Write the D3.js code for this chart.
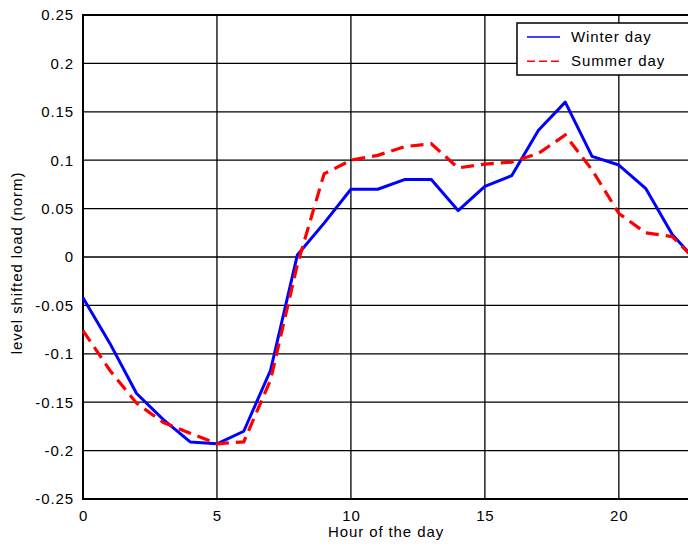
<!DOCTYPE html>
<html>
<head>
<meta charset="utf-8">
<script src="https://cdn.jsdelivr.net/npm/d3@7"></script>
<style>
  html, body { margin: 0; padding: 0; background: #fff; }
  svg { display: block; font-family: "Liberation Sans", Arial, sans-serif; }
</style>
</head>
<body>
<svg id="chart" width="688" height="550"></svg>
<script>
const hours = [0,1,2,3,4,5,6,7,8,9,10,11,12,13,14,15,16,17,18,19,20,21,22,23];
const winterDay = [-0.042,-0.089,-0.141,-0.168,-0.191,-0.193,-0.180,-0.117,0.002,0.035,0.070,0.070,0.080,0.080,0.048,0.073,0.084,0.131,0.160,0.104,0.095,0.071,0.023,-0.007];
const summerDay = [-0.076,-0.117,-0.151,-0.171,-0.182,-0.193,-0.191,-0.127,-0.008,0.086,0.100,0.105,0.114,0.117,0.092,0.096,0.098,0.107,0.126,0.090,0.045,0.025,0.021,-0.007];
const xTicks = [0,5,10,15,20];
const yTicks = [-0.25,-0.2,-0.15,-0.1,-0.05,0,0.05,0.1,0.15,0.2,0.25];
const yTickLabels = ["-0.25","-0.2","-0.15","-0.1","-0.05","0","0.05","0.1","0.15","0.2","0.25"];
const seriesNames = ["Winter day","Summer day"];
const xLabel = "Hour of the day";
const yLabel = "level shifted load (norm)";

const svg = d3.select("#chart");
const mLeft = 83, mTop = 15, mBottom = 499, mRight = 726;
const x = d3.scaleLinear().domain([0, 24]).range([mLeft, mRight]);
const y = d3.scaleLinear().domain([-0.25, 0.25]).range([mBottom, mTop]);
const fs = "15px", ls = "0.9px";

// grid
const grid = svg.append("g");
grid.selectAll("line.v").data(xTicks.filter(d => d > 0)).enter().append("line")
  .attr("x1", d => x(d)).attr("x2", d => x(d)).attr("y1", mTop).attr("y2", mBottom)
  .attr("stroke", "#000").attr("stroke-width", 1.3);
grid.selectAll("line.h").data(yTicks.filter(d => d > -0.25 && d < 0.25)).enter().append("line")
  .attr("x1", mLeft).attr("x2", mRight).attr("y1", d => y(d)).attr("y2", d => y(d))
  .attr("stroke", "#000").attr("stroke-width", 1.3);

// frame
svg.append("line").attr("x1", mLeft).attr("x2", mRight).attr("y1", mTop).attr("y2", mTop).attr("stroke", "#000").attr("stroke-width", 2);
svg.append("line").attr("x1", mLeft).attr("x2", mRight).attr("y1", mBottom).attr("y2", mBottom).attr("stroke", "#000").attr("stroke-width", 2);
svg.append("line").attr("x1", mLeft).attr("x2", mLeft).attr("y1", mTop - 1).attr("y2", mBottom + 1).attr("stroke", "#000").attr("stroke-width", 2);

// axes labels via d3 axes
const yAxis = d3.axisLeft(y).tickValues(yTicks).tickSize(0).tickPadding(9)
  .tickFormat((d, i) => yTickLabels[i]);
const gy = svg.append("g").attr("transform", `translate(${mLeft},0)`).call(yAxis);
gy.select(".domain").remove();
gy.selectAll("text").attr("font-size", fs).attr("letter-spacing", ls)
  .attr("font-family", "Liberation Sans, Arial, sans-serif").attr("fill", "#000");

const xAxis = d3.axisBottom(x).tickValues(xTicks).tickSize(0).tickPadding(11)
  .tickFormat(d3.format("d"));
const gx = svg.append("g").attr("transform", `translate(0,${mBottom})`).call(xAxis);
gx.select(".domain").remove();
gx.selectAll("text").attr("font-size", fs).attr("letter-spacing", ls)
  .attr("font-family", "Liberation Sans, Arial, sans-serif").attr("fill", "#000");

// lines
const line = d3.line().x((d, i) => x(hours[i])).y(d => y(d));
svg.append("path").datum(winterDay).attr("d", line)
  .attr("fill", "none").attr("stroke", "#0000ff").attr("stroke-width", 3).attr("stroke-linejoin", "round");
svg.append("path").datum(summerDay).attr("d", line)
  .attr("fill", "none").attr("stroke", "#ff0000").attr("stroke-width", 3.2).attr("stroke-dasharray", "13,7");

// axis titles
svg.append("text").attr("x", 386).attr("y", 537).attr("text-anchor", "middle")
  .attr("font-size", fs).attr("letter-spacing", ls).text(xLabel);
svg.append("text").attr("transform", "translate(22,263) rotate(-90)").attr("text-anchor", "middle")
  .attr("font-size", fs).attr("letter-spacing", ls).text(yLabel);

// legend
const lg = svg.append("g");
lg.append("rect").attr("x", 517).attr("y", 23).attr("width", 200).attr("height", 52)
  .attr("fill", "#fff").attr("stroke", "#000").attr("stroke-width", 1.5);
const colors = ["#0000ff", "#ff0000"];
const dashes = [null, "8,4"];
const rowY = [37, 61.3];
seriesNames.forEach((name, i) => {
  lg.append("line").attr("x1", 527).attr("x2", 560).attr("y1", rowY[i]).attr("y2", rowY[i])
    .attr("stroke", colors[i]).attr("stroke-width", 1.6).attr("stroke-dasharray", dashes[i]);
  lg.append("text").attr("x", 571).attr("y", rowY[i] + 5).attr("font-size", fs)
    .attr("letter-spacing", ls).attr("fill", "#000").text(name);
});
</script>
</body>
</html>
